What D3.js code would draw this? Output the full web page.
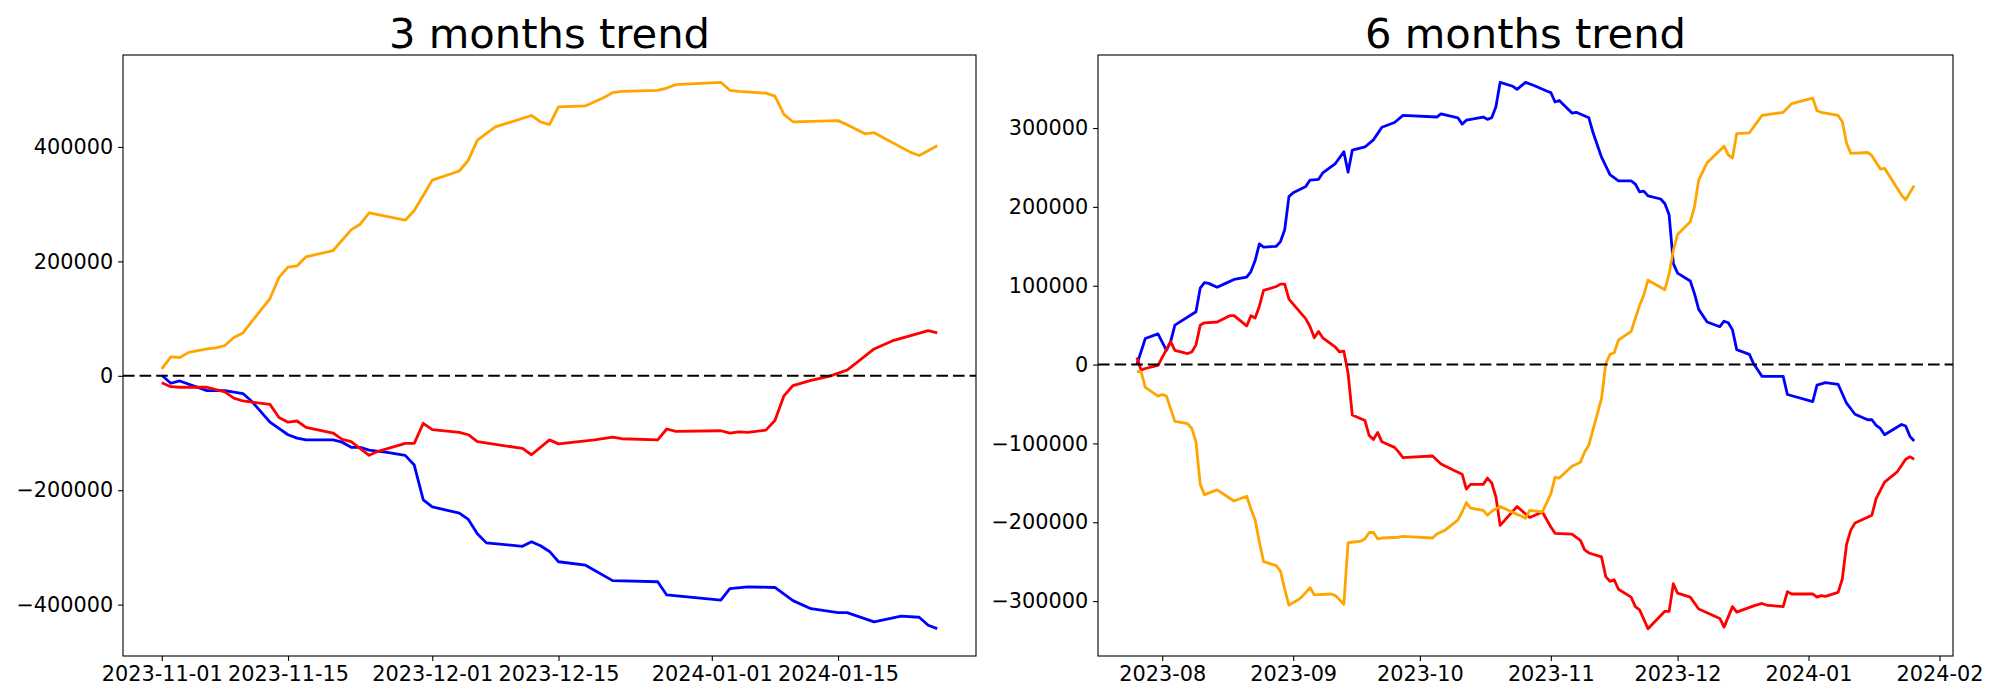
<!DOCTYPE html>
<html lang="en">
<head>
<meta charset="UTF-8" />
<title>3 and 6 months trend</title>
<style>
  body { margin: 0; background: #fff; }
  svg { display: block; font-family: "DejaVu Sans", sans-serif; }
</style>
</head>
<body>
<div id="chart"></div>
<script src="https://d3js.org/d3.v7.min.js"></script>
<script>
  // each point: [days after start, value]
  const start3 = "2023-11-01";
  const orange3 = [[0, 12000], [1, 33000], [2, 32000], [3, 41000], [5, 47000], [6, 49000], [7, 53000], [8, 67000], [9, 75000],
    [12, 135000], [13, 172000], [14, 190000], [15, 192000], [16, 208000], [19, 219000], [21, 255000], [22, 265000], [23, 285000],
    [27, 272000], [28, 289000], [29, 315000], [30, 342000], [33, 358000], [34, 377000], [35, 412000], [37, 435000], [41, 455000],
    [42, 444000], [43, 439000], [44, 470000], [47, 472000], [49, 486000], [50, 495000], [51, 497000], [55, 499000], [56, 503000],
    [57, 509000], [62, 513000], [63, 499000], [64, 497000], [67, 494000], [68, 489000], [69, 457000], [70, 444000], [73, 445000],
    [75, 446000], [76, 439000], [78, 423000], [79, 425000], [83, 391000], [84, 385000], [86, 402000]];
  const red3 = [[0, -12000], [1, -19000], [2, -20000], [5, -20000], [7, -28000], [8, -39000], [9, -44000], [12, -50000],
    [13, -73000], [14, -81000], [15, -79000], [16, -90000], [19, -100000], [20, -111000], [21, -115000], [23, -139000],
    [24, -132000], [27, -118000], [28, -118000], [29, -83000], [30, -94000], [33, -99000], [34, -103000], [35, -115000],
    [40, -127000], [41, -138000], [43, -112000], [44, -119000], [48, -112000], [50, -107000], [51, -110000], [55, -112000],
    [56, -93000], [57, -97000], [62, -96000], [63, -100000], [64, -98000], [65, -99000], [67, -95000], [68, -78000],
    [69, -35000], [70, -17000], [72, -8000], [74, -1000], [76, 10000], [77, 22000], [79, 47000], [81, 61000], [85, 79000],
    [86, 75000]];
  const blue3 = [[0, 1000], [1, -13000], [2, -9000], [5, -26000], [7, -26000], [9, -31000], [10, -45000], [12, -81000],
    [14, -103000], [15, -109000], [16, -112000], [19, -112000], [20, -116000], [21, -125000], [22, -125000], [23, -130000],
    [25, -134000], [27, -139000], [28, -156000], [29, -217000], [30, -229000], [33, -240000], [34, -251000], [35, -276000],
    [36, -292000], [40, -298000], [41, -290000], [42, -297000], [43, -307000], [44, -325000], [47, -331000], [50, -358000],
    [55, -360000], [56, -383000], [62, -392000], [63, -372000], [65, -369000], [68, -370000], [70, -393000], [72, -407000],
    [75, -414000], [76, -414000], [79, -430000], [82, -420000], [84, -422000], [85, -436000], [86, -442000]];
  const xTicks3 = ["2023-11-01", "2023-11-15", "2023-12-01", "2023-12-15", "2024-01-01", "2024-01-15"];
  const yTicks3 = [-400000, -200000, 0, 200000, 400000];

  const start6 = "2023-07-26";
  const orange6 = [[0, -9000], [1, -9000], [2, -29000], [5, -40000], [6, -38000], [7, -40000], [9, -72000], [12, -75000],
    [13, -81000], [14, -98000], [15, -152000], [16, -165000], [19, -159000], [23, -173000], [26, -167000], [27, -183000],
    [28, -197000], [29, -225000], [30, -250000], [33, -255000], [34, -262000], [35, -285000], [36, -305000], [38, -299000],
    [39, -295000], [41, -283000], [42, -292000], [46, -291000], [47, -293000], [49, -304000], [50, -226000], [53, -224000],
    [54, -221000], [55, -213000], [56, -213000], [57, -221000], [58, -220000], [62, -219000], [63, -218000], [70, -220000],
    [71, -215000], [73, -210000], [76, -197000], [77, -187000], [78, -175000], [79, -182000], [82, -185000], [83, -191000],
    [84, -186000], [86, -180000], [90, -190000], [91, -192000], [92, -195000], [93, -185000], [96, -187000], [98, -164000],
    [99, -143000], [100, -144000], [103, -129000], [105, -124000], [106, -111000], [107, -102000], [110, -43000], [111, 1000],
    [112, 13000], [113, 15000], [114, 31000], [117, 42000], [119, 75000], [120, 88000], [121, 107000], [125, 95000],
    [126, 115000], [127, 145000], [128, 165000], [131, 181000], [132, 200000], [133, 234000], [135, 256000], [139, 277000],
    [140, 266000], [141, 262000], [142, 293000], [145, 294000], [148, 316000], [153, 320000], [155, 331000], [160, 338000],
    [161, 322000], [162, 320000], [166, 316000], [167, 308000], [168, 281000], [169, 268000], [173, 269000], [174, 265000],
    [176, 248000], [177, 249000], [181, 215000], [182, 209000], [184, 227000]];
  const red6 = [[0, 9000], [1, -7000], [2, -5000], [5, -1000], [8, 29000], [9, 18000], [12, 14000], [13, 16000], [14, 25000],
    [15, 50000], [16, 53000], [19, 54000], [22, 62000], [23, 62000], [26, 49000], [27, 62000], [28, 59000], [29, 74000],
    [30, 94000], [33, 99000], [34, 102000], [35, 102000], [36, 83000], [40, 58000], [41, 48000], [42, 34000], [43, 42000],
    [44, 34000], [47, 22000], [48, 16000], [49, 17000], [50, -11000], [51, -64000], [54, -71000], [55, -90000], [56, -95000],
    [57, -86000], [58, -98000], [61, -105000], [62, -111000], [63, -118000], [70, -116000], [72, -126000], [75, -134000],
    [77, -139000], [78, -158000], [79, -152000], [82, -152000], [83, -144000], [84, -150000], [85, -168000], [86, -204000],
    [90, -180000], [93, -194000], [96, -187000], [98, -206000], [99, -214000], [103, -215000], [105, -223000], [106, -235000],
    [107, -239000], [110, -244000], [111, -269000], [112, -275000], [113, -273000], [114, -285000], [117, -295000],
    [118, -307000], [119, -311000], [121, -335000], [125, -313000], [126, -313000], [127, -278000], [128, -290000],
    [131, -295000], [133, -310000], [138, -322000], [139, -333000], [141, -307000], [142, -314000], [146, -306000],
    [148, -303000], [149, -305000], [153, -307000], [154, -288000], [155, -291000], [160, -291000], [161, -295000],
    [162, -293000], [163, -294000], [166, -289000], [167, -272000], [168, -228000], [169, -210000], [170, -201000],
    [174, -191000], [175, -170000], [177, -149000], [180, -136000], [182, -120000], [183, -117000], [184, -120000]];
  const blue6 = [[0, 0], [2, 33000], [5, 39000], [7, 18000], [8, 29000], [9, 50000], [14, 67000], [15, 97000], [16, 104000],
    [17, 103000], [19, 98000], [21, 103000], [23, 108000], [26, 111000], [27, 118000], [28, 132000], [29, 153000],
    [30, 149000], [33, 150000], [34, 156000], [35, 171000], [36, 213000], [37, 218000], [40, 226000], [41, 234000],
    [43, 235000], [44, 243000], [47, 255000], [49, 270000], [50, 244000], [51, 272000], [54, 276000], [56, 285000],
    [58, 301000], [61, 307000], [63, 316000], [71, 314000], [72, 318000], [76, 313000], [77, 305000], [78, 310000],
    [82, 314000], [83, 311000], [84, 313000], [85, 327000], [86, 358000], [89, 353000], [90, 349000], [92, 358000],
    [94, 354000], [97, 347000], [98, 345000], [99, 333000], [100, 335000], [103, 319000], [104, 320000], [107, 313000],
    [108, 294000], [110, 263000], [112, 241000], [114, 233000], [117, 233000], [118, 229000], [119, 219000], [120, 220000],
    [121, 214000], [124, 210000], [125, 204000], [126, 190000], [127, 128000], [128, 116000], [131, 106000], [132, 90000],
    [133, 70000], [135, 54000], [138, 48000], [139, 55000], [140, 53000], [141, 44000], [142, 19000], [145, 13000],
    [146, 1000], [148, -15000], [153, -15000], [154, -38000], [160, -47000], [161, -26000], [163, -23000], [166, -25000],
    [168, -49000], [170, -63000], [173, -70000], [174, -70000], [175, -77000], [176, -81000], [177, -89000], [181, -76000],
    [182, -78000], [183, -91000], [184, -97000]];
  const xTicks6 = ["2023-08-01", "2023-09-01", "2023-10-01", "2023-11-01", "2023-12-01", "2024-01-01", "2024-02-01"];
  const yTicks6 = [-300000, -200000, -100000, 0, 100000, 200000, 300000];

  const parse = d3.timeParse("%Y-%m-%d");
  const axTop = 55, axBottom = 656;
  const fontTick = 20.8;

  const panels = [
    { title: "3 months trend", start: start3, fmt: "%Y-%m-%d", xTicks: xTicks3, yTicks: yTicks3,
      left: 123, right: 976, series: [[blue3, "blue"], [red3, "red"], [orange3, "orange"]] },
    { title: "6 months trend", start: start6, fmt: "%Y-%m", xTicks: xTicks6, yTicks: yTicks6,
      left: 1098, right: 1953, series: [[blue6, "blue"], [red6, "red"], [orange6, "orange"]] }
  ];

  const svg = d3.select("#chart")
    .append("svg")
    .attr("width", 2000)
    .attr("height", 700);

  panels.forEach(p => {
    const t0 = parse(p.start);
    const toDate = o => d3.timeDay.offset(t0, o);
    const all = p.series.flatMap(s => s[0]);

    // matplotlib-like 5% margins
    const dx = d3.extent(all, d => toDate(d[0]).getTime());
    const padX = (dx[1] - dx[0]) * 0.05;
    const x = d3.scaleTime()
      .domain([new Date(dx[0] - padX), new Date(dx[1] + padX)])
      .range([p.left, p.right]);

    const dy = d3.extent(all, d => d[1]);
    const padY = (dy[1] - dy[0]) * 0.05;
    const y = d3.scaleLinear()
      .domain([dy[0] - padY, dy[1] + padY])
      .range([axBottom, axTop]);

    const g = svg.append("g");

    const line = d3.line()
      .x(d => x(toDate(d[0])))
      .y(d => y(d[1]));

    g.append("g")
      .selectAll("path")
      .data(p.series)
      .join("path")
      .attr("d", s => line(s[0]))
      .attr("fill", "none")
      .attr("stroke", s => s[1])
      .attr("stroke-width", 2.8)
      .attr("stroke-linejoin", "round");

    g.append("line")
      .attr("x1", p.left)
      .attr("x2", p.right)
      .attr("y1", y(0))
      .attr("y2", y(0))
      .attr("stroke", "#000")
      .attr("stroke-width", 2.1)
      .attr("stroke-dasharray", "11.6,5");

    const xAxis = g.append("g")
      .attr("transform", `translate(0,${axBottom})`)
      .call(d3.axisBottom(x)
        .tickValues(p.xTicks.map(parse))
        .tickFormat(d3.timeFormat(p.fmt))
        .tickSize(4.9)
        .tickPadding(4.9));

    const yAxis = g.append("g")
      .attr("transform", `translate(${p.left},0)`)
      .call(d3.axisLeft(y)
        .tickValues(p.yTicks)
        .tickFormat(d3.format("d"))
        .tickSize(4.9)
        .tickPadding(4.9));

    [xAxis, yAxis].forEach(a => {
      a.select(".domain").remove();
      a.selectAll(".tick line").attr("stroke", "#000").attr("stroke-width", 1.1);
      a.selectAll(".tick text")
        .attr("fill", "#000")
        .style("font-family", "'DejaVu Sans', sans-serif")
        .style("font-size", fontTick + "px");
    });

    g.append("rect")
      .attr("x", p.left)
      .attr("y", axTop)
      .attr("width", p.right - p.left)
      .attr("height", axBottom - axTop)
      .attr("fill", "none")
      .attr("stroke", "#000")
      .attr("stroke-width", 1.1);

    g.append("text")
      .attr("x", (p.left + p.right) / 2)
      .attr("y", 47.5)
      .attr("text-anchor", "middle")
      .attr("font-size", 41.7)
      .attr("fill", "#000")
      .text(p.title);
  });
</script>
</body>
</html>
